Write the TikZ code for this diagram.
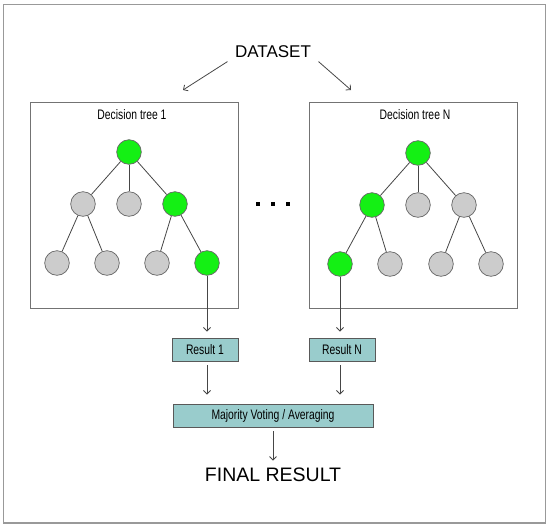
\documentclass[tikz,border=0pt]{standalone}
\usepackage{fontspec}
\usepackage{tikz}
\usepackage{xcolor}
\usetikzlibrary{arrows.meta}
\setmainfont{Liberation Sans}
\newfontfamily\narrowfont[FakeStretch=0.75]{Liberation Sans}
\definecolor{leafgreen}{RGB}{20,240,20}
\definecolor{leafgray}{RGB}{204,204,204}
\definecolor{resteal}{RGB}{153,204,204}
\definecolor{edgegray}{RGB}{70,70,70}

\begin{document}
\begin{tikzpicture}[x=1pt,y=-1pt,
  every node/.style={font=\narrowfont\fontsize{13.8}{16}\selectfont},
  arr/.style={draw=edgegray,line width=0.8pt,-{Straight Barb[length=3.5pt,width=7pt]}},
  edge/.style={draw=edgegray,line width=0.8pt},
  hit/.style={circle,draw=black!60,line width=0.7pt,fill=leafgreen,minimum size=24.6pt,inner sep=0pt},
  miss/.style={hit,fill=leafgray},
  treebox/.style={draw=black!55,line width=0.9pt,minimum width=208pt,minimum height=206pt,inner sep=0pt},
  resbox/.style={draw=black!65,line width=0.9pt,fill=resteal,minimum height=23pt,inner sep=0pt},
  dotsq/.style={fill=black,minimum size=3.6pt,inner sep=0pt}]
\useasboundingbox (0,0) rectangle (550,528);
\draw[black!40,line width=1.5pt] (3.5,4.7) rectangle (545.5,523);

\node[font=\fontsize{17}{19}\selectfont] (dataset) at (273,52) {DATASET};
\coordinate (tip1) at (183,90);
\coordinate (tipN) at (351,90);
\draw[arr] ([xshift=-4pt]dataset.south west) -- (tip1);
\draw[arr] ([xshift=4pt]dataset.south east) -- (tipN);

\node[treebox] (box1) at (134,205) {};
\node[treebox] (boxN) at (413,205) {};
\node (title1) at (132,115) {Decision tree 1};
\node (titleN) at (415,115) {Decision tree N};

\node[hit]  (l1)  at (129,152) {};
\node[miss] (l2a) at (83,204) {};
\node[miss] (l2b) at (129,204) {};
\node[hit]  (l2c) at (175,204) {};
\node[miss] (l3a) at (57,263) {};
\node[miss] (l3b) at (107,263) {};
\node[miss] (l3c) at (157,263) {};
\node[hit]  (l3d) at (207,263) {};
\draw[edge] (l1) -- (l2a);
\draw[edge] (l1) -- (l2b);
\draw[edge] (l1) -- (l2c);
\draw[edge] (l2a) -- (l3a);
\draw[edge] (l2a) -- (l3b);
\draw[edge] (l2c) -- (l3c);
\draw[edge] (l2c) -- (l3d);

\node[hit]  (r1)  at (418,153) {};
\node[hit]  (r2a) at (372,205) {};
\node[miss] (r2b) at (418,205) {};
\node[miss] (r2c) at (464,205) {};
\node[hit]  (r3a) at (340,264) {};
\node[miss] (r3b) at (390,264) {};
\node[miss] (r3c) at (441,264) {};
\node[miss] (r3d) at (491,264) {};
\draw[edge] (r1) -- (r2a);
\draw[edge] (r1) -- (r2b);
\draw[edge] (r1) -- (r2c);
\draw[edge] (r2a) -- (r3a);
\draw[edge] (r2a) -- (r3b);
\draw[edge] (r2c) -- (r3c);
\draw[edge] (r2c) -- (r3d);

\node[dotsq] (dot1) at (258,204) {};
\node[dotsq] (dot2) at (273,204) {};
\node[dotsq] (dot3) at (288,204) {};

\node[resbox,minimum width=66pt] (res1) at (205,349.5) {Result 1};
\node[resbox,minimum width=66pt] (resN) at (342,349.5) {Result N};
\node[resbox,minimum width=200pt] (vote) at (273,415.5) {Majority Voting / Averaging};
\node[font=\fontsize{19.5}{22}\selectfont] (final) at (273,475) {FINAL RESULT};

\draw[arr,shorten >=6pt] (l3d.south) -- (l3d.south |- res1.north);
\draw[arr,shorten >=6pt] (r3a.south) -- (r3a.south |- resN.north);
\draw[arr,shorten <=4pt,shorten >=9pt] (l3d.south |- res1.south) -- (l3d.south |- vote.north);
\draw[arr,shorten <=4pt,shorten >=9pt] (r3a.south |- resN.south) -- (r3a.south |- vote.north);
\draw[arr,shorten <=4pt,shorten >=4pt] (vote) -- (final);
\end{tikzpicture}
\end{document}
